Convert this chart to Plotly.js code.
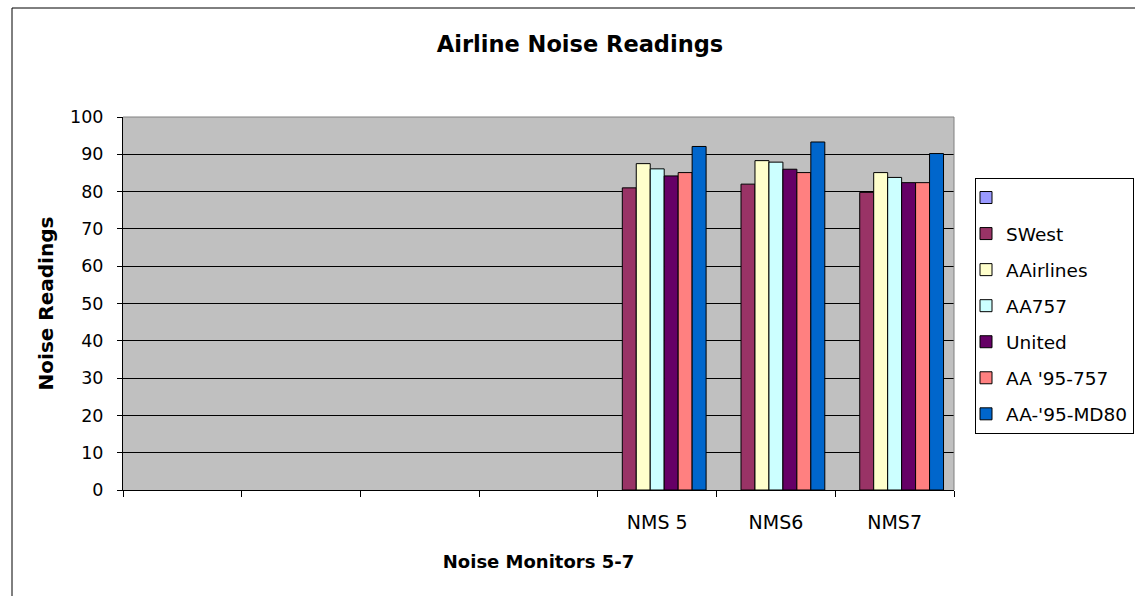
<!DOCTYPE html>
<html>
<head>
<meta charset="utf-8">
<script src="https://cdn.plot.ly/plotly-3.0.1.min.js"></script>
<style>
  html, body { margin: 0; padding: 0; background: #ffffff; }
  #chart { width: 1135px; height: 596px; }
</style>
</head>
<body>
<div id="chart"></div>
<script>
// Categories: four empty slots, then the three noise monitors
const categories = [" ", "  ", "   ", "    ", "NMS 5", "NMS6", "NMS7"];

// Series names and values (null = no bar)
const seriesNames = ["", "SWest", "AAirlines", "AA757", "United", "AA '95-757", "AA-'95-MD80"];
const blankSeries   = [null, null, null, null, null, null, null];
const sWest         = [null, null, null, null, 81.0, 82.0, 79.8];
const aAirlines     = [null, null, null, null, 87.5, 88.3, 85.1];
const aa757         = [null, null, null, null, 86.1, 87.9, 83.8];
const united        = [null, null, null, null, 84.2, 86.0, 82.4];
const aa95_757      = [null, null, null, null, 85.1, 85.1, 82.4];
const aa95_md80     = [null, null, null, null, 92.1, 93.3, 90.2];

const seriesValues = [blankSeries, sWest, aAirlines, aa757, united, aa95_757, aa95_md80];
const seriesColors = ["#9999FF", "#993366", "#FFFFCC", "#CCFFFF", "#660066", "#FF8080", "#0066CC"];

const yTicks = [0, 10, 20, 30, 40, 50, 60, 70, 80, 90, 100];

const FONT = "DejaVu Sans, Verdana, sans-serif";

const traces = seriesNames.map((name, i) => ({
  type: "bar",
  name: name === "" ? " " : name,
  x: categories,
  y: seriesValues[i],
  marker: { color: seriesColors[i], line: { color: "#000000", width: 1 } },
  showlegend: true,
  legendgroup: "g" + i,
  hoverinfo: "x+y+name"
}));

// plot area in pixels: left 123, right 954, top 117, bottom 490
const L = 123, R = 954, T = 117, B = 490, W = 1135, H = 596;
const pw = R - L, ph = B - T;

const layout = {
  width: W,
  height: H,
  margin: { l: L, r: W - R, t: T, b: H - B, pad: 0, autoexpand: false },
  paper_bgcolor: "#ffffff",
  plot_bgcolor: "#C0C0C0",
  barmode: "group",
  bargap: 1.5 / 8.5,
  bargroupgap: 0,
  showlegend: true,
  font: { family: FONT, color: "#000000", size: 17 },
  title: {
    text: "<b>Airline Noise Readings</b>",
    font: { family: FONT, size: 22.5, color: "#000000" },
    xref: "container", x: 580 / W, xanchor: "center",
    yref: "container", y: 1 - 44 / H, yanchor: "middle"
  },
  xaxis: {
    type: "category",
    categoryorder: "array",
    categoryarray: categories,
    tickson: "boundaries",
    ticks: "outside",
    ticklen: 6,
    tickcolor: "#000000",
    tickwidth: 1,
    showline: true,
    linecolor: "#000000",
    linewidth: 1,
    showgrid: false,
    zeroline: false,
    ticklabelstandoff: 15,
    tickfont: { family: FONT, size: 19, color: "#000000" },
    title: {
      text: "<b>Noise Monitors 5-7</b>",
      font: { family: FONT, size: 18, color: "#000000" },
      standoff: 23
    },
    fixedrange: true
  },
  yaxis: {
    range: [0, 100],
    tickvals: yTicks,
    ticktext: yTicks.map(String),
    ticks: "outside",
    ticklen: 5,
    tickcolor: "#000000",
    tickwidth: 1,
    showline: true,
    linecolor: "#000000",
    linewidth: 1,
    showgrid: true,
    gridcolor: "#000000",
    gridwidth: 1,
    zeroline: false,
    ticklabelstandoff: 10,
    tickfont: { family: FONT, size: 17.5, color: "#000000" },
    title: {
      text: "<b>Noise Readings</b>",
      font: { family: FONT, size: 20, color: "#000000" },
      standoff: 11
    },
    fixedrange: true
  },
  legend: {
    xref: "container",
    yref: "container",
    x: 975 / W,
    xanchor: "left",
    y: 1 - 178 / H,
    yanchor: "top",
    bgcolor: "#ffffff",
    bordercolor: "#000000",
    borderwidth: 1,
    traceorder: "grouped",
    tracegroupgap: 9,
    indentation: -10,
    font: { family: FONT, size: 18.5, color: "#000000" },
    itemclick: false,
    itemdoubleclick: false
  },
  shapes: [
    // plot area gray frame (top & right)
    { type: "line", xref: "paper", yref: "paper", x0: 0, x1: 1, y0: 1, y1: 1,
      line: { color: "#808080", width: 1 }, layer: "above" },
    { type: "line", xref: "paper", yref: "paper", x0: 1, x1: 1, y0: 0, y1: 1,
      line: { color: "#808080", width: 1 }, layer: "above" },
    // chart outer frame (left & top)
    { type: "line", xref: "paper", yref: "paper",
      x0: (12 - L) / pw, x1: (12 - L) / pw, y0: 1 + (T - 8) / ph, y1: 1 - (H - T) / ph,
      line: { color: "#000000", width: 1 }, layer: "above" },
    { type: "line", xref: "paper", yref: "paper",
      x0: (12 - L) / pw, x1: (W - L) / pw, y0: 1 + (T - 8) / ph, y1: 1 + (T - 8) / ph,
      line: { color: "#000000", width: 1 }, layer: "above" }
  ]
};

Plotly.newPlot("chart", traces, layout, { displayModeBar: false, staticPlot: false, responsive: false });
</script>
</body>
</html>
